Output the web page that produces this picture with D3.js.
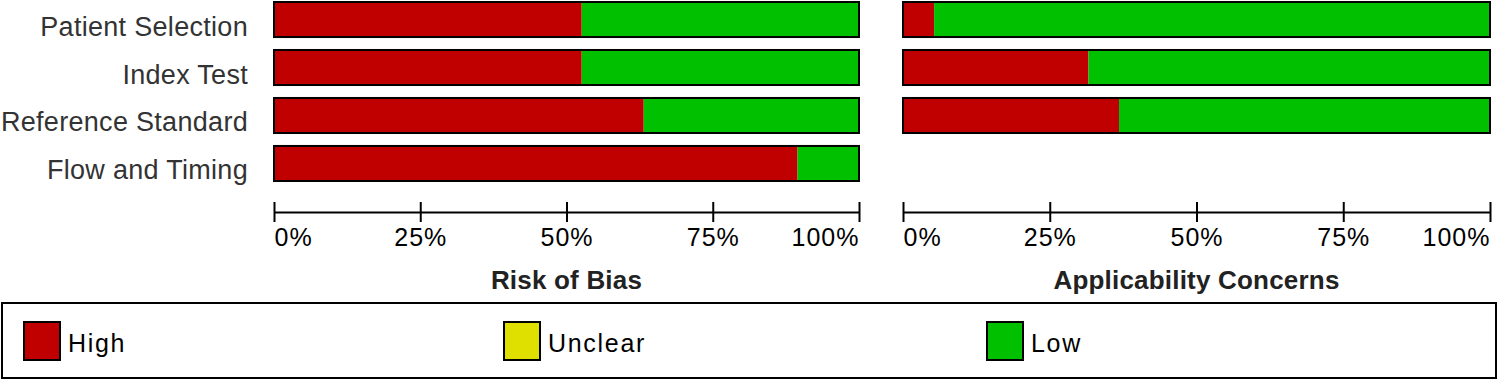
<!DOCTYPE html>
<html>
<head>
<meta charset="utf-8">
<script src="https://cdn.jsdelivr.net/npm/d3@7"></script>
<style>
  body { margin: 0; background: #fff; }
  svg { display: block; font-family: "Liberation Sans", Arial, sans-serif; }
</style>
</head>
<body>
<div id="plot"></div>
<script>
// domains (rows) and judgement data, percent of studies (n = 19)
const categories = ["Patient Selection", "Index Test", "Reference Standard", "Flow and Timing"];
const riskHigh = [52.6, 52.6, 63.2, 89.5];
const riskUnclear = [0, 0, 0, 0];
const riskLow = [47.4, 47.4, 36.8, 10.5];

const applicCategories = ["Patient Selection", "Index Test", "Reference Standard"];
const applicHigh = [5.3, 31.6, 36.8];
const applicUnclear = [0, 0, 0];
const applicLow = [94.7, 68.4, 63.2];

const tickValues = [0, 25, 50, 75, 100];
const legendLabels = ["High", "Unclear", "Low"];
const colors = {High: "#c00000", Unclear: "#e0e000", Low: "#00c000"};

const width = 1498, height = 381;

const svg = d3.select("div#plot")
  .append("svg")
  .attr("width", width)
  .attr("height", height);

// shared row scale
const y = d3.scaleBand()
  .domain(categories)
  .range([2, 181])
  .paddingInner(0.27)
  .paddingOuter(0);

const axisY = 212;

function panel(cats, high, unclear, low, x0, x1, title) {
  const x = d3.scaleLinear().domain([0, 100]).range([x0, x1]);
  const g = svg.append("g");

  const rows = cats.map((c, i) => ({cat: c, High: high[i], Unclear: unclear[i], Low: low[i]}));
  const stack = d3.stack().keys(["High", "Unclear", "Low"])(rows);

  g.selectAll("g.series")
    .data(stack)
    .join("g")
      .attr("fill", d => colors[d.key])
    .selectAll("rect")
    .data(d => d)
    .join("rect")
      .attr("x", d => x(d[0]))
      .attr("y", d => y(d.data.cat))
      .attr("width", d => x(d[1]) - x(d[0]))
      .attr("height", y.bandwidth());

  // outline round each bar
  g.selectAll("rect.outline")
    .data(rows)
    .join("rect")
      .attr("class", "outline")
      .attr("x", x(0))
      .attr("y", d => y(d.cat))
      .attr("width", x(100) - x(0))
      .attr("height", y.bandwidth())
      .attr("fill", "none")
      .attr("stroke", "#000")
      .attr("stroke-width", 2);

  // axis
  const ax = g.append("g")
    .attr("transform", `translate(0,${axisY})`)
    .call(d3.axisBottom(x).tickValues(tickValues).tickSizeOuter(0).tickFormat(d => d + "%"));
  ax.select(".domain").attr("stroke", "#000").attr("stroke-width", 2);
  ax.selectAll(".tick line").attr("y1", -10).attr("y2", 10).attr("stroke-width", 2);
  ax.selectAll(".tick text")
    .attr("y", 34)
    .attr("dy", 0)
    .attr("fill", "#000")
    .style("font-size", "25px")
    .style("letter-spacing", "1px")
    .attr("text-anchor", (d, i) => i === 0 ? "start" : (i === tickValues.length - 1 ? "end" : "middle"));

  g.append("text")
    .attr("x", (x0 + x1) / 2)
    .attr("y", 289)
    .attr("text-anchor", "middle")
    .style("font-size", "26px")
    .style("font-weight", "bold")
    .style("letter-spacing", "0.2px")
    .attr("fill", "#222")
    .text(title);
}

// category labels
svg.append("g")
  .selectAll("text")
  .data(categories)
  .join("text")
    .attr("x", 248)
    .attr("y", d => y(d) + y.bandwidth() / 2 + 16)
    .attr("text-anchor", "end")
    .attr("fill", "#333")
    .style("font-size", "27px")
    .style("letter-spacing", "0.3px")
    .text(d => d);

panel(categories, riskHigh, riskUnclear, riskLow, 274, 859, "Risk of Bias");
panel(applicCategories, applicHigh, applicUnclear, applicLow, 903, 1490, "Applicability Concerns");

// legend
svg.append("rect")
  .attr("x", 2).attr("y", 303)
  .attr("width", 1494).attr("height", 75)
  .attr("fill", "none")
  .attr("stroke", "#000")
  .attr("stroke-width", 2);

const legendX = [24, 504, 987];
const lg = svg.append("g")
  .selectAll("g")
  .data(legendLabels)
  .join("g")
    .attr("transform", (d, i) => `translate(${legendX[i]},322)`);
lg.append("rect")
  .attr("width", 36).attr("height", 38)
  .attr("fill", d => colors[d])
  .attr("stroke", "#000")
  .attr("stroke-width", 2);
lg.append("text")
  .attr("x", 44)
  .attr("y", 30)
  .attr("fill", "#000")
  .style("font-size", "25px")
  .style("letter-spacing", "1.7px")
  .text(d => d);
</script>
</body>
</html>
